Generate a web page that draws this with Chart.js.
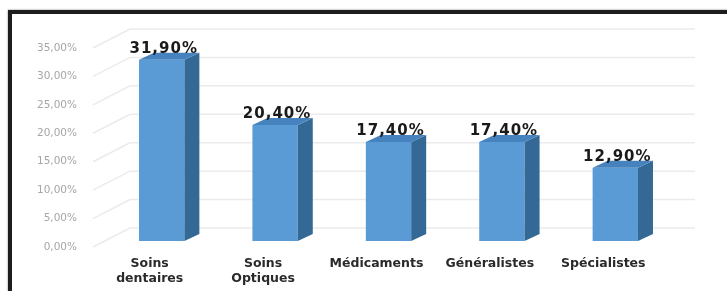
<!DOCTYPE html>
<html>
<head>
<meta charset="utf-8">
<script src="https://cdn.jsdelivr.net/npm/chart.js@4.4.1/dist/chart.umd.min.js"></script>
<style>
  html, body { margin: 0; padding: 0; background: #fff; }
  #wrap { position: relative; width: 727px; height: 291px; overflow: hidden; }
  #frame { position: absolute; left: 8px; top: 10px; width: 800px; height: 400px;
           border: 4px solid #1d1d1d; box-shadow: 0 0 2px #888; pointer-events: none; }
  canvas { position: absolute; left: 0; top: 0; }
</style>
</head>
<body>
<div id="wrap">
  <canvas id="chart" width="727" height="291"></canvas>
  <div id="frame"></div>
</div>
<script>
// Data
const categories = [['Soins', 'dentaires'], ['Soins', 'Optiques'], 'Médicaments', 'Généralistes', 'Spécialistes'];
const shares = [31.9, 20.4, 17.4, 17.4, 12.9];
const yTicks = [0, 5, 10, 15, 20, 25, 30, 35];

const fmt = v => v.toFixed(2).replace('.', ',') + '%';

// 3D depth of the bars and of the back wall
const DX = 15, DY = 7;

const backWall = {
    id: 'backWall',
    beforeDatasetsDraw(chart) {
        const ctx = chart.ctx, y = chart.scales.y, a = chart.chartArea;
        ctx.save();
        ctx.strokeStyle = '#ebebeb';
        ctx.lineWidth = 1.5;
        yTicks.forEach(v => {
            const p = y.getPixelForValue(v);
            ctx.beginPath();
            ctx.moveTo(a.left - 12, p + 6);
            ctx.lineTo(a.left + 25, p - 13);
            ctx.lineTo(a.right + 23, p - 13);
            ctx.stroke();
        });
        ctx.restore();
    }
};

const bars3d = {
    id: 'bars3d',
    afterDatasetsDraw(chart) {
        const ctx = chart.ctx;
        const meta = chart.getDatasetMeta(0);
        ctx.save();
        meta.data.forEach((bar, i) => {
            const l = bar.x - bar.width / 2, r = bar.x + bar.width / 2;
            // side face
            ctx.fillStyle = '#346996';
            ctx.beginPath();
            ctx.moveTo(r, bar.y);
            ctx.lineTo(r + DX, bar.y - DY);
            ctx.lineTo(r + DX, bar.base - DY);
            ctx.lineTo(r, bar.base);
            ctx.closePath();
            ctx.fill();
            // top face
            ctx.fillStyle = '#4682bd';
            ctx.beginPath();
            ctx.moveTo(l, bar.y);
            ctx.lineTo(l + DX, bar.y - DY);
            ctx.lineTo(r + DX, bar.y - DY);
            ctx.lineTo(r, bar.y);
            ctx.closePath();
            ctx.fill();
            // value label
            ctx.fillStyle = '#1a1a1a';
            ctx.font = 'bold 15px "DejaVu Sans"';
            ctx.letterSpacing = '1px';
            ctx.textAlign = 'center';
            ctx.textBaseline = 'alphabetic';
            ctx.fillText(fmt(shares[i]), bar.x + 2, bar.y - 7);
        });
        ctx.restore();
    }
};

new Chart(document.getElementById('chart'), {
    type: 'bar',
    data: {
        labels: categories,
        datasets: [{
            data: shares,
            backgroundColor: '#5b9bd5',
            barPercentage: 0.4,
            categoryPercentage: 1
        }]
    },
    options: {
        responsive: false,
        animation: false,
        layout: { padding: { top: 42, right: 55, left: 0, bottom: 0 } },
        plugins: {
            legend: { display: false },
            tooltip: { enabled: false }
        },
        scales: {
            x: {
                grid: { display: false },
                border: { display: false },
                afterFit(scale) { scale.height = 50; },
                ticks: {
                    color: '#2a2a2a',
                    font: { family: 'DejaVu Sans', size: 12.5, weight: 'bold', lineHeight: 1.2 },
                    padding: 7,
                    labelOffset: -12,
                    maxRotation: 0,
                    autoSkip: false
                }
            },
            y: {
                min: 0,
                max: 35,
                grid: { display: false },
                border: { display: false },
                afterFit(scale) { scale.width = 105; },
                ticks: {
                    stepSize: 5,
                    color: '#a6a6a6',
                    font: { family: 'DejaVu Sans', size: 10.5 },
                    padding: 20,
                    labelOffset: 6,
                    callback: v => fmt(v)
                }
            }
        }
    },
    plugins: [backWall, bars3d]
});
</script>
</body>
</html>
